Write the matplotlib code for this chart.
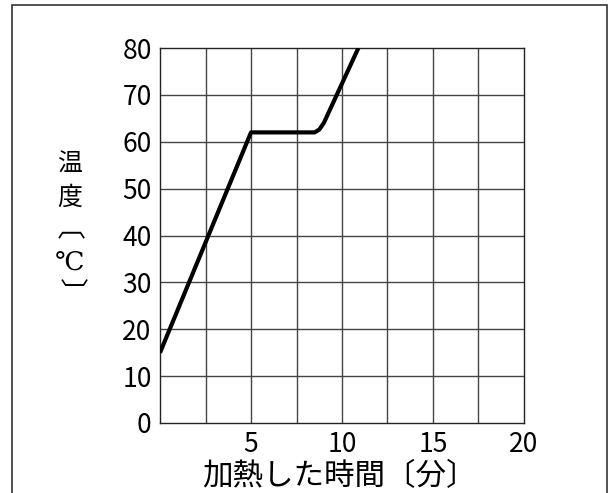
import matplotlib
matplotlib.use("Agg")
import matplotlib.pyplot as plt
from matplotlib.patches import Rectangle

plt.rcParams['font.family'] = ['Noto Sans CJK JP', 'DejaVu Sans']

# heating time (min) and temperature (°C)
time_min = [0, 5, 8.5, 8.75, 9.0, 10.9]
temp_c = [15, 62, 62, 62.6, 64, 80]

x_ticks = [5, 10, 15, 20]
x_tick_labels = ["5", "10", "15", "20"]
y_ticks = [0, 10, 20, 30, 40, 50, 60, 70, 80]
x_grid = [2.5, 5, 7.5, 10, 12.5, 15, 17.5]
y_grid = [10, 20, 30, 40, 50, 60, 70]

x_label = "加熱した時間〔分〕"

fig = plt.figure(figsize=(6.14, 4.93), dpi=100)
ax = fig.add_axes([0.2606, 0.142, 0.5928, 0.7606])

# outer frame
fig.patches.append(Rectangle((0.0195, -0.05), 0.969, 1.0399, transform=fig.transFigure,
                             fill=False, edgecolor="#333333", linewidth=1.2))

ax.set_xlim(0, 20)
ax.set_ylim(0, 80)
for gx in x_grid:
    ax.axvline(gx, color="#444444", linewidth=1.0, zorder=1)
for gy in y_grid:
    ax.axhline(gy, color="#444444", linewidth=1.0, zorder=1)

ax.plot(time_min, temp_c, color="black", linewidth=3.0, solid_joinstyle="round",
        solid_capstyle="butt", zorder=3)

for s in ax.spines.values():
    s.set_color("#222222")
    s.set_linewidth(1.0)

ax.set_xticks(x_ticks)
ax.set_xticklabels(x_tick_labels)
ax.set_yticks(y_ticks)
ax.tick_params(length=0, labelsize=19, pad=6, colors="black")

fig.text(339 / 614, 1 - 476 / 493, x_label, ha="center", va="center", fontsize=22)

# vertical axis title, one character per row
def ychar(ch, xpix, ypix, rot=0, family=None, size=17):
    kw = dict(ha="center", va="center", fontsize=size, rotation=rot,
              rotation_mode="anchor")
    if family:
        kw["family"] = family
    fig.text(xpix / 614, 1 - ypix / 493, ch, **kw)

ychar("温", 70, 165, size=18)
ychar("度", 70, 198, size=18)
ychar("〔", 48, 244, rot=-90, size=20)
ychar("℃", 70, 262, family=["DejaVu Serif", "Noto Sans CJK JP"], size=19)
ychar("〕", 70, 292, rot=-90, size=20)

fig.savefig("out.png", dpi=100)
